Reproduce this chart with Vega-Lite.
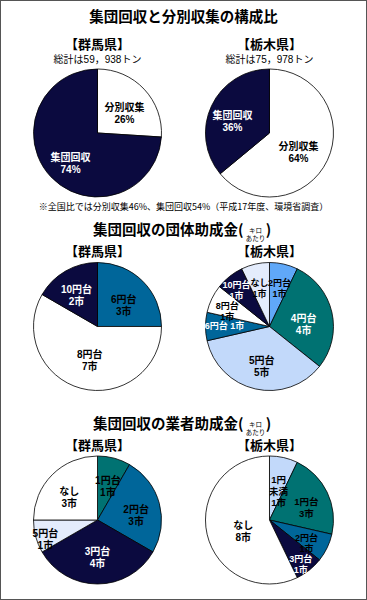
{
  "$schema": "https://vega.github.io/schema/vega-lite/v6.json",
  "width": 367,
  "height": 600,
  "autosize": {"type": "fit", "contains": "padding"},
  "padding": 0,
  "background": "white",
  "config": {
    "view": {"stroke": "#555", "strokeWidth": 2},
    "text": {"font": "Liberation Sans, Noto Sans CJK JP", "lineBreak": "\n", "fontSize": 10, "lineHeight": 12, "fontWeight": "bold"},
    "arc": {"outerRadius": 64, "stroke": "#000", "strokeWidth": 0.8}
  },
  "datasets": {
    "pies": [
      {"sec": "s1", "pref": "群馬県", "o": 1, "cat": "分別収集", "n": 26, "lab": "分別収集\n26%"},
      {"sec": "s1", "pref": "群馬県", "o": 2, "cat": "集団回収", "n": 74, "lab": "集団回収\n74%"},
      {"sec": "s1", "pref": "栃木県", "o": 1, "cat": "分別収集", "n": 64, "lab": "分別収集\n64%"},
      {"sec": "s1", "pref": "栃木県", "o": 2, "cat": "集団回収", "n": 36, "lab": "集団回収\n36%"},
      {"sec": "s2", "pref": "群馬県", "o": 1, "cat": "6円台", "n": 3, "lab": "6円台\n3市"},
      {"sec": "s2", "pref": "群馬県", "o": 2, "cat": "8円台", "n": 7, "lab": "8円台\n7市"},
      {"sec": "s2", "pref": "群馬県", "o": 3, "cat": "10円台", "n": 2, "lab": "10円台\n2市"},
      {"sec": "s2", "pref": "栃木県", "o": 1, "cat": "2円台", "n": 1, "lab": "2円台\n1市"},
      {"sec": "s2", "pref": "栃木県", "o": 2, "cat": "4円台", "n": 4, "lab": "4円台\n4市"},
      {"sec": "s2", "pref": "栃木県", "o": 3, "cat": "5円台", "n": 5, "lab": "5円台\n5市"},
      {"sec": "s2", "pref": "栃木県", "o": 4, "cat": "6円台", "n": 1, "lab": "6円台 1市"},
      {"sec": "s2", "pref": "栃木県", "o": 5, "cat": "8円台", "n": 1, "lab": "8円台\n1市"},
      {"sec": "s2", "pref": "栃木県", "o": 6, "cat": "10円台", "n": 1, "lab": "10円台\n1市"},
      {"sec": "s2", "pref": "栃木県", "o": 7, "cat": "なし", "n": 1, "lab": "なし\n1市"},
      {"sec": "s3", "pref": "群馬県", "o": 1, "cat": "1円台", "n": 1, "lab": "1円台\n1市"},
      {"sec": "s3", "pref": "群馬県", "o": 2, "cat": "2円台", "n": 3, "lab": "2円台\n3市"},
      {"sec": "s3", "pref": "群馬県", "o": 3, "cat": "3円台", "n": 4, "lab": "3円台\n4市"},
      {"sec": "s3", "pref": "群馬県", "o": 4, "cat": "5円台", "n": 1, "lab": "5円台\n1市"},
      {"sec": "s3", "pref": "群馬県", "o": 5, "cat": "なし", "n": 3, "lab": "なし\n3市"},
      {"sec": "s3", "pref": "栃木県", "o": 1, "cat": "1円未満", "n": 1, "lab": "1円\n未満\n1市"},
      {"sec": "s3", "pref": "栃木県", "o": 2, "cat": "1円台", "n": 3, "lab": "1円台\n3市"},
      {"sec": "s3", "pref": "栃木県", "o": 3, "cat": "2円台", "n": 1, "lab": "2円台\n1市"},
      {"sec": "s3", "pref": "栃木県", "o": 4, "cat": "3円台", "n": 1, "lab": "3円台\n1市"},
      {"sec": "s3", "pref": "栃木県", "o": 5, "cat": "なし", "n": 8, "lab": "なし\n8市"}
    ],
    "texts": [
      {"kind": "h1", "sec": "s1", "t": "集団回収と分別収集の構成比"},
      {"kind": "h2", "sec": "s2", "t": "集団回収の団体助成金("},
      {"kind": "h2", "sec": "s3", "t": "集団回収の業者助成金("},
      {"kind": "unit", "sec": "s2", "t": "キロ\nあたり"},
      {"kind": "unit", "sec": "s3", "t": "キロ\nあたり"},
      {"kind": "close", "sec": "s2", "t": ")"},
      {"kind": "close", "sec": "s3", "t": ")"},
      {"kind": "pref1", "sec": "s1", "pref": "群馬県", "t": "【群馬県】"},
      {"kind": "pref1", "sec": "s1", "pref": "栃木県", "t": "【栃木県】"},
      {"kind": "pref", "sec": "s2", "pref": "群馬県", "t": "【群馬県】"},
      {"kind": "pref", "sec": "s2", "pref": "栃木県", "t": "【栃木県】"},
      {"kind": "pref", "sec": "s3", "pref": "群馬県", "t": "【群馬県】"},
      {"kind": "pref", "sec": "s3", "pref": "栃木県", "t": "【栃木県】"},
      {"kind": "total", "sec": "s1", "pref": "群馬県", "t": "総計は59，938トン"},
      {"kind": "total", "sec": "s1", "pref": "栃木県", "t": "総計は75，978トン"},
      {"kind": "note", "sec": "s1", "t": "※全国比では分別収集46%、集団回収54%（平成17年度、環境省調査）"}
    ]
  },
  "layer": [
    {
      "data": {"name": "pies"},
      "transform": [{"filter": "datum.sec === 's1' && datum.pref === '群馬県'"}],
      "encoding": {
        "x": {"field": "pref", "type": "nominal", "axis": null, "scale": {"type": "point", "domain": ["群馬県", "栃木県"], "padding": 0.567, "align": 0.5}},
        "y": {"field": "sec", "type": "ordinal", "axis": null, "scale": {"type": "point", "domain": ["s1", "s2", "s3"], "padding": 0.5504, "align": 0.6244}},
        "theta": {"field": "n", "type": "quantitative", "stack": "normalize", "scale": {"domain": [0, 1]}},
        "order": {"field": "o", "type": "quantitative"}
      },
      "layer": [
        {"mark": {"type": "arc"},
         "encoding": {"color": {"field": "cat", "type": "nominal", "legend": null, "scale": {"domain": ["分別収集", "集団回収"], "range": ["#ffffff", "#0b0a3f"]}}}},
        {"mark": {"type": "text", "radius": 37},
         "encoding": {"text": {"field": "lab"}, "color": {"condition": {"test": "datum.cat === '集団回収'", "value": "#ffffff"}, "value": "#000000"}}}
      ]
    },
    {
      "data": {"name": "pies"},
      "transform": [{"filter": "datum.sec === 's1' && datum.pref === '栃木県'"}],
      "encoding": {
        "x": {"field": "pref", "type": "nominal", "axis": null, "scale": {"type": "point", "domain": ["群馬県", "栃木県"], "padding": 0.567, "align": 0.5}},
        "y": {"field": "sec", "type": "ordinal", "axis": null, "scale": {"type": "point", "domain": ["s1", "s2", "s3"], "padding": 0.5504, "align": 0.6244}},
        "theta": {"field": "n", "type": "quantitative", "stack": "normalize", "scale": {"domain": [0, 1]}},
        "order": {"field": "o", "type": "quantitative"}
      },
      "layer": [
        {"mark": {"type": "arc"},
         "encoding": {"color": {"field": "cat", "type": "nominal", "legend": null, "scale": {"domain": ["分別収集", "集団回収"], "range": ["#ffffff", "#0b0a3f"]}}}},
        {"mark": {"type": "text", "radius": 32},
         "encoding": {"text": {"condition": {"test": "datum.cat === '分別収集'", "field": "lab"}, "value": ""}, "color": {"value": "#000000"}}},
        {"mark": {"type": "text", "radius": 41},
         "encoding": {"text": {"condition": {"test": "datum.cat === '集団回収'", "field": "lab"}, "value": ""}, "color": {"value": "#ffffff"}}}
      ]
    },
    {
      "data": {"name": "pies"},
      "transform": [{"filter": "datum.sec === 's2' && datum.pref === '群馬県'"}],
      "encoding": {
        "x": {"field": "pref", "type": "nominal", "axis": null, "scale": {"type": "point", "domain": ["群馬県", "栃木県"], "padding": 0.567, "align": 0.5}},
        "y": {"field": "sec", "type": "ordinal", "axis": null, "scale": {"type": "point", "domain": ["s1", "s2", "s3"], "padding": 0.5504, "align": 0.6244}},
        "theta": {"field": "n", "type": "quantitative", "stack": "normalize", "scale": {"domain": [0, 1]}},
        "order": {"field": "o", "type": "quantitative"}
      },
      "layer": [
        {"mark": {"type": "arc"},
         "encoding": {"color": {"field": "cat", "type": "nominal", "legend": null, "scale": {"domain": ["2円台", "4円台", "5円台", "6円台", "8円台", "10円台", "なし"], "range": ["#60a8f8", "#007272", "#c2d9fa", "#00669a", "#ffffff", "#0b0a3f", "#e4ecfc"]}}}},
        {"mark": {"type": "text", "radius": 30},
         "encoding": {"text": {"condition": {"test": "datum.cat === '8円台'", "field": "lab"}, "value": ""}, "color": {"value": "#000000"}}},
        {"mark": {"type": "text", "radius": 37},
         "encoding": {"text": {"condition": {"test": "datum.cat === '6円台'", "field": "lab"}, "value": ""}, "color": {"value": "#000000"}}},
        {"mark": {"type": "text", "radius": 42},
         "encoding": {"text": {"condition": {"test": "datum.cat === '10円台'", "field": "lab"}, "value": ""}, "color": {"value": "#ffffff"}}}
      ]
    },
    {
      "data": {"name": "pies"},
      "transform": [{"filter": "datum.sec === 's2' && datum.pref === '栃木県'"}],
      "encoding": {
        "x": {"field": "pref", "type": "nominal", "axis": null, "scale": {"type": "point", "domain": ["群馬県", "栃木県"], "padding": 0.567, "align": 0.5}},
        "y": {"field": "sec", "type": "ordinal", "axis": null, "scale": {"type": "point", "domain": ["s1", "s2", "s3"], "padding": 0.5504, "align": 0.6244}},
        "theta": {"field": "n", "type": "quantitative", "stack": "normalize", "scale": {"domain": [0, 1]}},
        "order": {"field": "o", "type": "quantitative"}
      },
      "layer": [
        {"mark": {"type": "arc"},
         "encoding": {"color": {"field": "cat", "type": "nominal", "legend": null, "scale": {"domain": ["2円台", "4円台", "5円台", "6円台", "8円台", "10円台", "なし"], "range": ["#60a8f8", "#007272", "#c2d9fa", "#00669a", "#ffffff", "#0b0a3f", "#e4ecfc"]}}}},
        {"mark": {"type": "text", "radius": 35},
         "encoding": {"text": {"condition": {"test": "datum.cat === '4円台' || datum.cat === '5円台'", "field": "lab"}, "value": ""}, "color": {"condition": {"test": "datum.cat === '4円台'", "value": "#ffffff"}, "value": "#000000"}}},
        {"mark": {"type": "text", "radius": 45, "fontSize": 9, "lineHeight": 11},
         "encoding": {"text": {"condition": {"test": "datum.cat === '2円台' || datum.cat === '6円台' || datum.cat === 'なし'", "field": "lab"}, "value": ""}, "color": {"condition": {"test": "datum.cat === '6円台'", "value": "#ffffff"}, "value": "#000000"}}},
        {"mark": {"type": "text", "radius": 47, "fontSize": 9, "lineHeight": 11},
         "encoding": {"text": {"condition": {"test": "datum.cat === '8円台'", "field": "lab"}, "value": ""}, "color": {"value": "#000000"}}},
        {"mark": {"type": "text", "radius": 53, "fontSize": 9, "lineHeight": 11},
         "encoding": {"text": {"condition": {"test": "datum.cat === '10円台'", "field": "lab"}, "value": ""}, "color": {"value": "#ffffff"}}}
      ]
    },
    {
      "data": {"name": "pies"},
      "transform": [{"filter": "datum.sec === 's3' && datum.pref === '群馬県'"}],
      "encoding": {
        "x": {"field": "pref", "type": "nominal", "axis": null, "scale": {"type": "point", "domain": ["群馬県", "栃木県"], "padding": 0.567, "align": 0.5}},
        "y": {"field": "sec", "type": "ordinal", "axis": null, "scale": {"type": "point", "domain": ["s1", "s2", "s3"], "padding": 0.5504, "align": 0.6244}},
        "theta": {"field": "n", "type": "quantitative", "stack": "normalize", "scale": {"domain": [0, 1]}},
        "order": {"field": "o", "type": "quantitative"}
      },
      "layer": [
        {"mark": {"type": "arc"},
         "encoding": {"color": {"field": "cat", "type": "nominal", "legend": null, "scale": {"domain": ["1円未満", "1円台", "2円台", "3円台", "5円台", "なし"], "range": ["#c2d9fa", "#007272", "#00669a", "#0b0a3f", "#e4ecfc", "#ffffff"]}}}},
        {"mark": {"type": "text", "radius": 32},
         "encoding": {"text": {"condition": {"test": "datum.cat === '3円台'", "field": "lab"}, "value": ""}, "color": {"value": "#ffffff"}}},
        {"mark": {"type": "text", "radius": 40},
         "encoding": {"text": {"condition": {"test": "datum.cat === '1円台' || datum.cat === '2円台' || datum.cat === 'なし'", "field": "lab"}, "value": ""}, "color": {"value": "#000000"}}},
        {"mark": {"type": "text", "radius": 54},
         "encoding": {"text": {"condition": {"test": "datum.cat === '5円台'", "field": "lab"}, "value": ""}, "color": {"value": "#000000"}}}
      ]
    },
    {
      "data": {"name": "pies"},
      "transform": [{"filter": "datum.sec === 's3' && datum.pref === '栃木県'"}],
      "encoding": {
        "x": {"field": "pref", "type": "nominal", "axis": null, "scale": {"type": "point", "domain": ["群馬県", "栃木県"], "padding": 0.567, "align": 0.5}},
        "y": {"field": "sec", "type": "ordinal", "axis": null, "scale": {"type": "point", "domain": ["s1", "s2", "s3"], "padding": 0.5504, "align": 0.6244}},
        "theta": {"field": "n", "type": "quantitative", "stack": "normalize", "scale": {"domain": [0, 1]}},
        "order": {"field": "o", "type": "quantitative"}
      },
      "layer": [
        {"mark": {"type": "arc"},
         "encoding": {"color": {"field": "cat", "type": "nominal", "legend": null, "scale": {"domain": ["1円未満", "1円台", "2円台", "3円台", "5円台", "なし"], "range": ["#c2d9fa", "#007272", "#00669a", "#0b0a3f", "#e4ecfc", "#ffffff"]}}}},
        {"mark": {"type": "text", "radius": 27},
         "encoding": {"text": {"condition": {"test": "datum.cat === 'なし'", "field": "lab"}, "value": ""}, "color": {"value": "#000000"}}},
        {"mark": {"type": "text", "radius": 41, "fontSize": 9.5, "lineHeight": 11.5},
         "encoding": {"text": {"condition": {"test": "datum.cat === '1円未満' || datum.cat === '1円台'", "field": "lab"}, "value": ""}, "color": {"value": "#000000"}}},
        {"mark": {"type": "text", "radius": 41, "fontSize": 9, "lineHeight": 11},
         "encoding": {"text": {"condition": {"test": "datum.cat === '2円台'", "field": "lab"}, "value": ""}, "color": {"value": "#000000"}}},
        {"mark": {"type": "text", "radius": 50, "fontSize": 9, "lineHeight": 11},
         "encoding": {"text": {"condition": {"test": "datum.cat === '3円台'", "field": "lab"}, "value": ""}, "color": {"value": "#ffffff"}}}
      ]
    },
    {
      "data": {"name": "texts"},
      "transform": [{"filter": "datum.kind === 'h1'"}],
      "mark": {"type": "text", "font": "Noto Sans CJK JP", "fontSize": 14.5, "dy": -115},
      "encoding": {
        "y": {"field": "sec", "type": "ordinal", "axis": null, "scale": {"type": "point", "domain": ["s1", "s2", "s3"], "padding": 0.5504, "align": 0.6244}},
        "text": {"field": "t"}
      }
    },
    {
      "data": {"name": "texts"},
      "transform": [{"filter": "datum.kind === 'h2'"}],
      "mark": {"type": "text", "font": "Noto Sans CJK JP", "fontSize": 14.5, "align": "left", "dx": -90.5, "dy": -95},
      "encoding": {
        "y": {"field": "sec", "type": "ordinal", "axis": null, "scale": {"type": "point", "domain": ["s1", "s2", "s3"], "padding": 0.5504, "align": 0.6244}},
        "text": {"field": "t"}
      }
    },
    {
      "data": {"name": "texts"},
      "transform": [{"filter": "datum.kind === 'unit'"}],
      "mark": {"type": "text", "fontSize": 6.5, "lineHeight": 7.8, "fontWeight": "normal", "dx": 72, "dy": -95},
      "encoding": {
        "y": {"field": "sec", "type": "ordinal", "axis": null, "scale": {"type": "point", "domain": ["s1", "s2", "s3"], "padding": 0.5504, "align": 0.6244}},
        "text": {"field": "t"}
      }
    },
    {
      "data": {"name": "texts"},
      "transform": [{"filter": "datum.kind === 'close'"}],
      "mark": {"type": "text", "font": "Noto Sans CJK JP", "fontSize": 14.5, "dx": 85, "dy": -95},
      "encoding": {
        "y": {"field": "sec", "type": "ordinal", "axis": null, "scale": {"type": "point", "domain": ["s1", "s2", "s3"], "padding": 0.5504, "align": 0.6244}},
        "text": {"field": "t"}
      }
    },
    {
      "data": {"name": "texts"},
      "transform": [{"filter": "datum.kind === 'pref1'"}],
      "mark": {"type": "text", "fontSize": 13, "dy": -88},
      "encoding": {
        "x": {"field": "pref", "type": "nominal", "axis": null, "scale": {"type": "point", "domain": ["群馬県", "栃木県"], "padding": 0.567, "align": 0.5}},
        "y": {"field": "sec", "type": "ordinal", "axis": null, "scale": {"type": "point", "domain": ["s1", "s2", "s3"], "padding": 0.5504, "align": 0.6244}},
        "text": {"field": "t"}
      }
    },
    {
      "data": {"name": "texts"},
      "transform": [{"filter": "datum.kind === 'pref'"}],
      "mark": {"type": "text", "font": "Noto Sans CJK JP", "fontSize": 13, "dy": -74},
      "encoding": {
        "x": {"field": "pref", "type": "nominal", "axis": null, "scale": {"type": "point", "domain": ["群馬県", "栃木県"], "padding": 0.567, "align": 0.5}},
        "y": {"field": "sec", "type": "ordinal", "axis": null, "scale": {"type": "point", "domain": ["s1", "s2", "s3"], "padding": 0.5504, "align": 0.6244}},
        "text": {"field": "t"}
      }
    },
    {
      "data": {"name": "texts"},
      "transform": [{"filter": "datum.kind === 'total'"}],
      "mark": {"type": "text", "fontSize": 10, "fontWeight": "normal", "dy": -73},
      "encoding": {
        "x": {"field": "pref", "type": "nominal", "axis": null, "scale": {"type": "point", "domain": ["群馬県", "栃木県"], "padding": 0.567, "align": 0.5}},
        "y": {"field": "sec", "type": "ordinal", "axis": null, "scale": {"type": "point", "domain": ["s1", "s2", "s3"], "padding": 0.5504, "align": 0.6244}},
        "text": {"field": "t"}
      }
    },
    {
      "data": {"name": "texts"},
      "transform": [{"filter": "datum.kind === 'note'"}],
      "mark": {"type": "text", "font": "Noto Sans CJK JP", "fontSize": 9, "fontWeight": "normal", "dy": 74},
      "encoding": {
        "y": {"field": "sec", "type": "ordinal", "axis": null, "scale": {"type": "point", "domain": ["s1", "s2", "s3"], "padding": 0.5504, "align": 0.6244}},
        "text": {"field": "t"}
      }
    }
  ],
  "resolve": {"scale": {"color": "independent"}}
}
